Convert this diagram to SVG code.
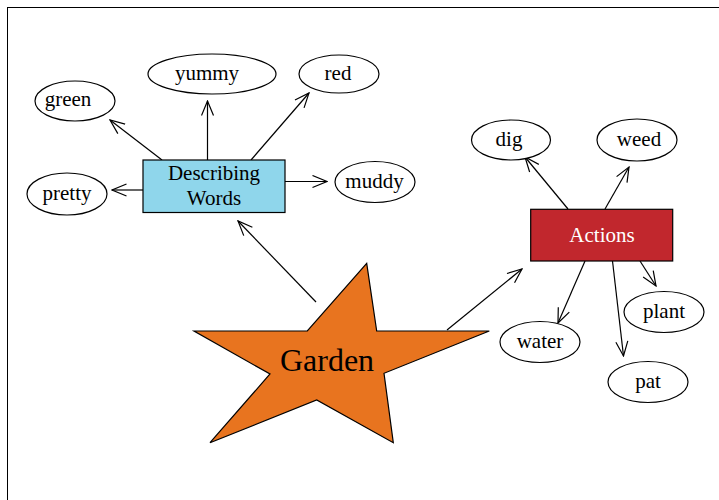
<svg xmlns="http://www.w3.org/2000/svg" width="719" height="500" viewBox="0 0 719 500">
<defs>
<marker id="ah" viewBox="0 0 16 14" refX="15" refY="7" markerWidth="16" markerHeight="14" markerUnits="userSpaceOnUse" orient="auto">
<path d="M0.5,1 L15,7 L0.5,13" fill="none" stroke="#000" stroke-width="1.2"/>
</marker>
<style>
text{font-family:"Liberation Serif","Times New Roman",serif;font-size:21px;text-anchor:middle;fill:#000}
.e{fill:#fff;stroke:#000;stroke-width:1.2}
.c line{stroke:#000;stroke-width:1.2;marker-end:url(#ah)}
</style>
</defs>
<rect width="719" height="500" fill="#fff"/>
<rect x="7.5" y="7.5" width="760" height="560" fill="none" stroke="#000" stroke-width="1"/>
<g class="c" id="connectors">
<line x1="316" y1="302" x2="238" y2="221"/>
<line x1="447" y1="330" x2="522" y2="269"/>
<line x1="162" y1="160" x2="110" y2="120"/>
<line x1="207.5" y1="160" x2="207.5" y2="101"/>
<line x1="251" y1="160" x2="309" y2="93"/>
<line x1="143" y1="190" x2="112" y2="190"/>
<line x1="285" y1="181.5" x2="327" y2="181.5"/>
<line x1="568" y1="209" x2="525" y2="157"/>
<line x1="605" y1="209" x2="629" y2="167"/>
<line x1="640" y1="261" x2="656" y2="286"/>
<line x1="585" y1="261" x2="558" y2="323"/>
<line x1="612.5" y1="261" x2="623.5" y2="356"/>
</g>
<g id="garden">
<polygon points="366.7,263.3 376.7,331 489.3,331 384,373.3 393.3,442.7 316.7,400 210,442.7 270,374 194,331 307.3,331" fill="#e8741f" stroke="#000" stroke-width="1.2" stroke-linejoin="miter"/>
<text x="327" y="371" style="font-size:32px">Garden</text>
</g>
<g id="describing">
<rect x="143" y="160" width="142" height="52.5" fill="#8fd6eb" stroke="#000" stroke-width="1.2"/>
<text x="214" y="180">Describing</text>
<text x="214" y="205">Words</text>
</g>
<g id="actions">
<rect x="530.7" y="209.3" width="142" height="51.7" fill="#c1272d" stroke="#000" stroke-width="1.2"/>
<text x="602" y="242" style="fill:#fff">Actions</text>
</g>
<g id="green"><ellipse class="e" cx="75" cy="101" rx="40" ry="20"/><text x="68" y="106">green</text></g>
<g id="yummy"><ellipse class="e" cx="212" cy="74" rx="64" ry="20"/><text x="207" y="80">yummy</text></g>
<g id="red"><ellipse class="e" cx="339" cy="74" rx="40" ry="19"/><text x="338" y="80">red</text></g>
<g id="pretty"><ellipse class="e" cx="67" cy="194" rx="40" ry="21"/><text x="67" y="200">pretty</text></g>
<g id="muddy"><ellipse class="e" cx="375" cy="182" rx="40" ry="20.5"/><text x="374.5" y="188">muddy</text></g>
<g id="dig"><ellipse class="e" cx="511" cy="140" rx="39.5" ry="20"/><text x="509" y="146">dig</text></g>
<g id="weed"><ellipse class="e" cx="637" cy="140" rx="40" ry="21"/><text x="639" y="146">weed</text></g>
<g id="plant"><ellipse class="e" cx="664" cy="312" rx="40" ry="20.5"/><text x="664" y="318">plant</text></g>
<g id="water"><ellipse class="e" cx="540" cy="342" rx="40" ry="20.5"/><text x="540" y="348">water</text></g>
<g id="pat"><ellipse class="e" cx="648" cy="382" rx="40" ry="20.5"/><text x="648" y="388">pat</text></g>
</svg>
